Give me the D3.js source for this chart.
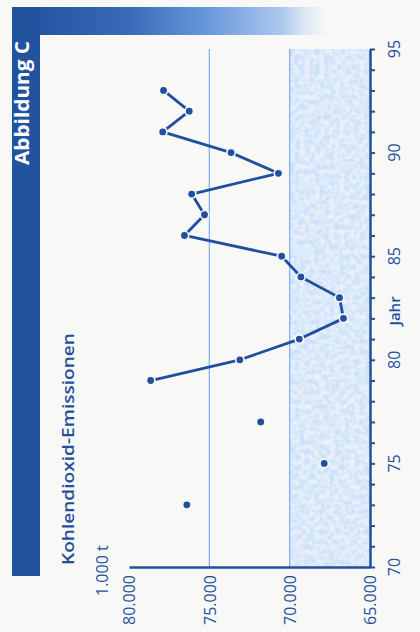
<!DOCTYPE html>
<html>
<head>
<meta charset="utf-8">
<script src="https://cdn.jsdelivr.net/npm/d3@7"></script>
<style>
  html, body { margin: 0; padding: 0; background: #f8f8f6; }
  svg { display: block; }
</style>
</head>
<body>
<script>
// Kohlendioxid-Emissionen je Jahr (1.000 t)
const years  = [73, 75, 77, 79, 80, 81, 82, 83, 84, 85, 86, 87, 88, 89, 90, 91, 92, 93];
const values = [76400, 67850, 71800, 78650, 73100, 69400, 66650, 66900, 69300, 70500,
                76550, 75300, 76100, 70700, 73650, 77900, 76250, 77850];
const valueTicks = [80000, 75000, 70000, 65000];
const gridValues = [75000, 70000];
const yearLabels = [70, 75, 80, 85, 90, 95];
const shadedBand = [70000, 65000];

const W = 420, H = 632;
const dark = "#1f4f9e";
const fontFamily = "'Open Sans', 'Noto Sans', sans-serif";

const de = d3.formatLocale({ decimal: ",", thousands: ".", grouping: [3], currency: ["", " €"] });
const fmt = de.format(",");

const svg = d3.select("body").append("svg").attr("width", W).attr("height", H);
svg.append("rect").attr("width", W).attr("height", H).attr("fill", "#f8f8f6");

const defs = svg.append("defs");
const grad = defs.append("linearGradient").attr("id", "headGrad").attr("x1", "0").attr("x2", "1");
[[0, "#1f4f9c", 1], [0.35, "#3868b6", 1], [0.6, "#6594d8", 1], [0.85, "#a9c5ee", 0.95], [1, "#dce8f8", 0]]
  .forEach(([o, c, a]) => grad.append("stop").attr("offset", o).attr("stop-color", c).attr("stop-opacity", a));

// Grainy light-blue texture for the shaded band
const mottle = defs.append("filter").attr("id", "mottle")
  .attr("x", 0).attr("y", 0).attr("width", "100%").attr("height", "100%");
mottle.append("feTurbulence").attr("type", "fractalNoise").attr("baseFrequency", "0.2")
  .attr("numOctaves", 4).attr("seed", 11).attr("result", "n");
mottle.append("feColorMatrix").attr("in", "n").attr("type", "matrix")
  .attr("values", "0 0 0 0 0.6  0 0 0 0 0.75  0 0 0 0 0.95  2.4 0 0 0 -0.75").attr("result", "c");
mottle.append("feComposite").attr("in", "c").attr("in2", "SourceGraphic").attr("operator", "in");

// Heading frame
svg.append("rect").attr("x", 12).attr("y", 7).attr("width", 318).attr("height", 28).attr("fill", "url(#headGrad)");
svg.append("rect").attr("x", 12).attr("y", 7).attr("width", 28).attr("height", 569).attr("fill", "#22539f");
svg.append("text")
  .attr("transform", "translate(29,41) rotate(-90)")
  .attr("text-anchor", "end")
  .attr("font-family", fontFamily).attr("font-weight", 700).attr("font-size", 20)
  .attr("textLength", 124).attr("lengthAdjust", "spacingAndGlyphs")
  .attr("fill", "#ffffff").text("Abbildung C");

// Scales: value runs horizontally (80.000 left), year runs vertically (95 top)
const x = d3.scaleLinear().domain([80000, 65000]).range([129, 370]);
const y = d3.scaleLinear().domain([70, 95]).range([567, 49]);

// Shaded band between 70.000 and 65.000
const band = { x: x(shadedBand[0]), y: y(95), w: x(shadedBand[1]) - x(shadedBand[0]), h: y(70) - y(95) };
svg.append("rect").attr("x", band.x).attr("y", band.y).attr("width", band.w).attr("height", band.h)
  .attr("fill", "#e8f0fa");
svg.append("rect").attr("x", band.x).attr("y", band.y).attr("width", band.w).attr("height", band.h)
  .attr("fill", "#000").attr("filter", "url(#mottle)");

// Grid lines
svg.append("g").selectAll("line").data(gridValues).join("line")
  .attr("x1", d => x(d)).attr("x2", d => x(d))
  .attr("y1", y(95)).attr("y2", y(70))
  .attr("stroke", "#80acea").attr("stroke-width", 1.2);

// Value axis along the bottom
const gx = svg.append("g").attr("transform", `translate(0,${y(70)})`)
  .call(d3.axisBottom(x).tickValues(valueTicks).tickSize(0).tickSizeOuter(0).tickFormat(fmt));
gx.select(".domain").attr("stroke", dark).attr("stroke-width", 2.5);
gx.selectAll(".tick line").remove();
gx.selectAll(".tick text")
  .attr("transform", "rotate(-90)")
  .attr("text-anchor", "end")
  .attr("x", -8).attr("y", 0).attr("dy", "0.36em")
  .attr("font-family", fontFamily).attr("font-size", 16).attr("fill", dark);

// Year axis on the right
const gy = svg.append("g").attr("transform", `translate(${x(65000)},0)`)
  .call(d3.axisRight(y).tickValues(d3.range(70, 96)).tickSize(5).tickSizeOuter(0).tickFormat(""));
gy.select(".domain").attr("stroke", dark).attr("stroke-width", 2.5);
gy.selectAll(".tick line").attr("stroke", dark).attr("stroke-width", 2);

svg.append("g").selectAll("text").data(yearLabels).join("text")
  .attr("transform", d => `translate(400,${y(d)}) rotate(-90)`)
  .attr("text-anchor", "middle")
  .attr("font-family", fontFamily).attr("font-size", 16).attr("fill", dark)
  .text(d => d);

svg.append("text")
  .attr("transform", `translate(400,311) rotate(-90)`)
  .attr("text-anchor", "middle")
  .attr("font-family", fontFamily).attr("font-weight", 600).attr("font-size", 15)
  .attr("fill", dark)
  .text("Jahr");

// Axis titles
svg.append("text")
  .attr("transform", "translate(74,565) rotate(-90)")
  .attr("font-family", fontFamily).attr("font-weight", 600).attr("font-size", 16.5)
  .attr("textLength", 232).attr("lengthAdjust", "spacingAndGlyphs")
  .attr("fill", dark).text("Kohlendioxid-Emissionen");
svg.append("text")
  .attr("transform", "translate(108,596) rotate(-90)")
  .attr("font-family", fontFamily).attr("font-weight", 500).attr("font-size", 16)
  .attr("fill", dark).text("1.000 t");

// Data: consecutive years are joined by a line, isolated years stand alone
const data = years.map((yr, i) => ({ year: yr, value: values[i] }));
const runs = [];
data.forEach((d, i) => {
  if (i > 0 && d.year - data[i - 1].year === 1) runs[runs.length - 1].push(d);
  else runs.push([d]);
});
const line = d3.line().x(d => x(d.value)).y(d => y(d.year));
svg.append("g").selectAll("path").data(runs.filter(r => r.length > 1)).join("path")
  .attr("d", line).attr("fill", "none")
  .attr("stroke", dark).attr("stroke-width", 2.8).attr("stroke-linejoin", "round");
svg.append("g").selectAll("circle").data(data).join("circle")
  .attr("cx", d => x(d.value)).attr("cy", d => y(d.year)).attr("r", 4.2)
  .attr("fill", dark).attr("stroke", "#f8f8f6").attr("stroke-width", 1.6);
</script>
</body>
</html>
